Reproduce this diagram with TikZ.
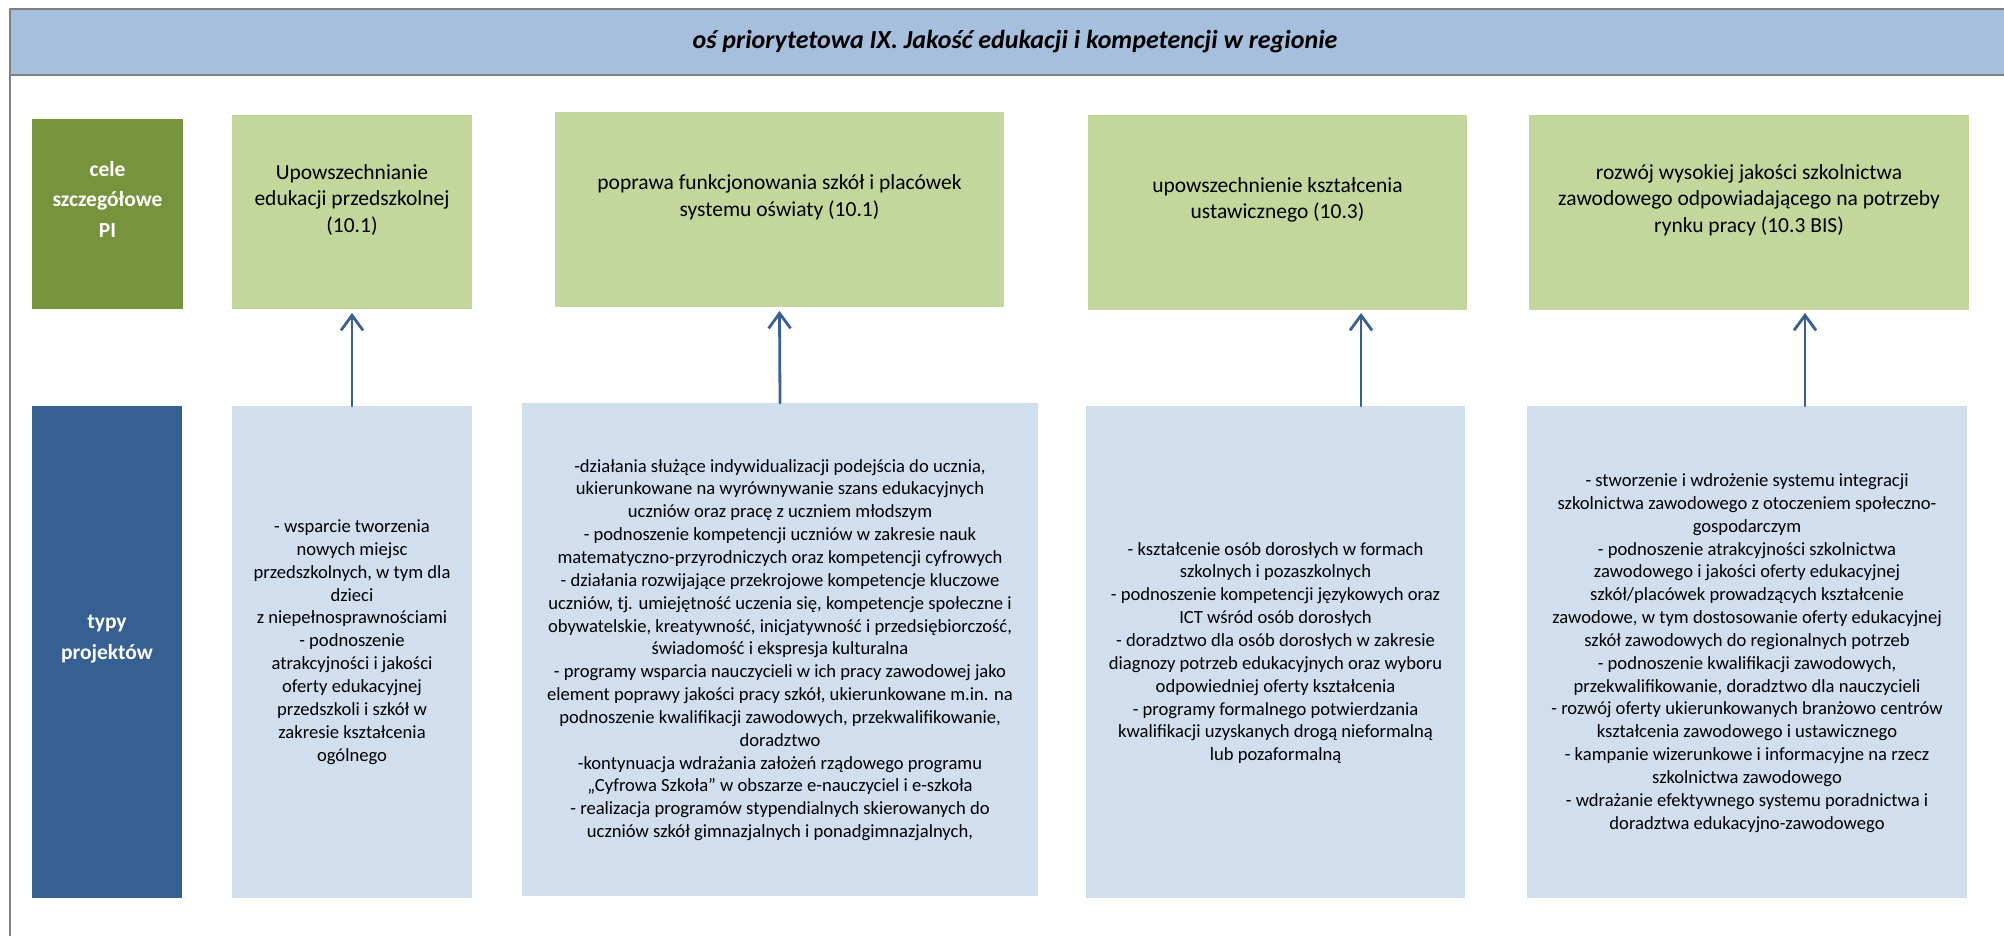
\documentclass[tikz,border=0pt]{standalone}
\usepackage{fontspec}
\setmainfont{Carlito}
\usetikzlibrary{arrows.meta}

\definecolor{headblue}{HTML}{A5BFDD}
\definecolor{framegray}{HTML}{808080}
\definecolor{celgreen}{HTML}{77933C}
\definecolor{upgreen}{HTML}{C3D69B}
\definecolor{typblue}{HTML}{366092}
\definecolor{loblue}{HTML}{D1DEEE}
\definecolor{linkblue}{HTML}{3A5F91}

\begin{document}
\begin{tikzpicture}[x=1pt,y=-1pt,line cap=round,line join=round,
  box/.style={rectangle,inner sep=0pt,outer sep=0pt},
  celbox/.style={box,fill=celgreen},
  typbox/.style={box,fill=typblue},
  upbox/.style={box,fill=upgreen},
  lobox/.style={box,fill=loblue},
  headbar/.style={box,fill=headblue,draw=framegray,line width=2.5pt,
    font=\fontsize{26}{31}\selectfont\bfseries\itshape},
  frame/.style={draw=framegray,line width=2.5pt,line cap=butt},
  sidetext/.style={text=white,align=center,font=\fontsize{21.5}{30.5}\selectfont\bfseries},
  uptext/.style={align=center,font=\fontsize{21.5}{26.7}\selectfont},
  lotext/.style={align=center,font=\fontsize{18.6}{22.85}\selectfont},
  link/.style={draw=linkblue,line width=2.8pt,-{Straight Barb[length=15pt,width=22pt]}}]
  \useasboundingbox (0,0) rectangle (2004,936);

  % header and frame
  \node[headbar,minimum width=2010,minimum height=66] (head) at (1015,42)
    {oś priorytetowa IX. Jakość edukacji i kompetencji w regionie};
  \draw[frame] (head.south west) -- (10,940);

  % upper row
  \node[celbox,minimum width=151,minimum height=190] (cel) at (107.5,214) {};
  \node[upbox,minimum width=240,minimum height=194] (up1) at (352,212) {};
  \node[upbox,minimum width=449,minimum height=195] (up2) at (779.5,209.5) {};
  \node[upbox,minimum width=379,minimum height=195] (up3) at (1277.5,212.5) {};
  \node[upbox,minimum width=440,minimum height=195] (up4) at (1749,212.5) {};

  \node[sidetext] (celtxt) at (107.5,199) {cele\\szczegółowe\\PI};
  \node[uptext] (uptxt1) at (352,200) {Upowszechnianie\\edukacji przedszkolnej\\(10.1)};
  \node[uptext] (uptxt2) at (779.5,197) {poprawa funkcjonowania szkół i placówek\\systemu oświaty (10.1)};
  \node[uptext] (uptxt3) at (1277.5,200) {upowszechnienie kształcenia\\ustawicznego (10.3)};
  \node[uptext] (uptxt4) at (1749,200) {rozwój wysokiej jakości szkolnictwa\\zawodowego odpowiadającego na potrzeby\\rynku pracy (10.3 BIS)};

  % lower row
  \node[typbox,minimum width=150,minimum height=492] (typ) at (107,652) {};
  \node[lobox,minimum width=240,minimum height=492] (lo1) at (352,652) {};
  \node[lobox,minimum width=516,minimum height=493] (lo2) at (780,649.5) {};
  \node[lobox,minimum width=379,minimum height=492] (lo3) at (1275.5,652) {};
  \node[lobox,minimum width=440,minimum height=492] (lo4) at (1747,652) {};

  \node[sidetext] (typtxt) at (107,639) {typy\\projektów};
  \node[lotext] (lotxt1) at (352,642) {- wsparcie tworzenia\\nowych miejsc\\przedszkolnych, w tym dla\\dzieci\\z niepełnosprawnościami\\- podnoszenie\\atrakcyjności i jakości\\oferty edukacyjnej\\przedszkoli i szkół w\\zakresie kształcenia\\ogólnego};
  \node[lotext] (lotxt2) at (780,650) {-działania służące indywidualizacji podejścia do ucznia,\\ukierunkowane na wyrównywanie szans edukacyjnych\\uczniów oraz pracę z uczniem młodszym\\- podnoszenie kompetencji uczniów w zakresie nauk\\matematyczno-przyrodniczych oraz kompetencji cyfrowych\\- działania rozwijające przekrojowe kompetencje kluczowe\\uczniów, tj. umiejętność uczenia się, kompetencje społeczne i\\obywatelskie, kreatywność, inicjatywność i przedsiębiorczość,\\świadomość i ekspresja kulturalna\\- programy wsparcia nauczycieli w ich pracy zawodowej jako\\element poprawy jakości pracy szkół, ukierunkowane m.in. na\\podnoszenie kwalifikacji zawodowych, przekwalifikowanie,\\doradztwo\\-kontynuacja wdrażania założeń rządowego programu\\„Cyfrowa Szkoła” w obszarze e-nauczyciel i e-szkoła\\- realizacja programów stypendialnych skierowanych do\\uczniów szkół gimnazjalnych i ponadgimnazjalnych,};
  \node[lotext] (lotxt3) at (1275.5,653) {- kształcenie osób dorosłych w formach\\szkolnych i pozaszkolnych\\- podnoszenie kompetencji językowych oraz\\ICT wśród osób dorosłych\\- doradztwo dla osób dorosłych w zakresie\\diagnozy potrzeb edukacyjnych oraz wyboru\\odpowiedniej oferty kształcenia\\- programy formalnego potwierdzania\\kwalifikacji uzyskanych drogą nieformalną\\lub pozaformalną};
  \node[lotext] (lotxt4) at (1747,653) {- stworzenie i wdrożenie systemu integracji\\szkolnictwa zawodowego z otoczeniem społeczno-\\gospodarczym\\- podnoszenie atrakcyjności szkolnictwa\\zawodowego i jakości oferty edukacyjnej\\szkół/placówek prowadzących kształcenie\\zawodowe, w tym dostosowanie oferty edukacyjnej\\szkół zawodowych do regionalnych potrzeb\\- podnoszenie kwalifikacji zawodowych,\\przekwalifikowanie, doradztwo dla nauczycieli\\- rozwój oferty ukierunkowanych branżowo centrów\\kształcenia zawodowego i ustawicznego\\- kampanie wizerunkowe i informacyjne na rzecz\\szkolnictwa zawodowego\\- wdrażanie efektywnego systemu poradnictwa i\\doradztwa edukacyjno-zawodowego};

  % arrows
  \coordinate (a3) at (1361,0);
  \coordinate (a4) at (1805,0);
  \draw[link] (lo1.north) -- ([yshift=-4pt]up1.south);
  \draw[link] (lo2.north) -- ([yshift=-4pt]up2.south);
  \draw[link] (lo3.north -| a3) -- ([yshift=-3pt]up3.south -| a3);
  \draw[link] (lo4.north -| a4) -- ([yshift=-3pt]up4.south -| a4);
\end{tikzpicture}
\end{document}
